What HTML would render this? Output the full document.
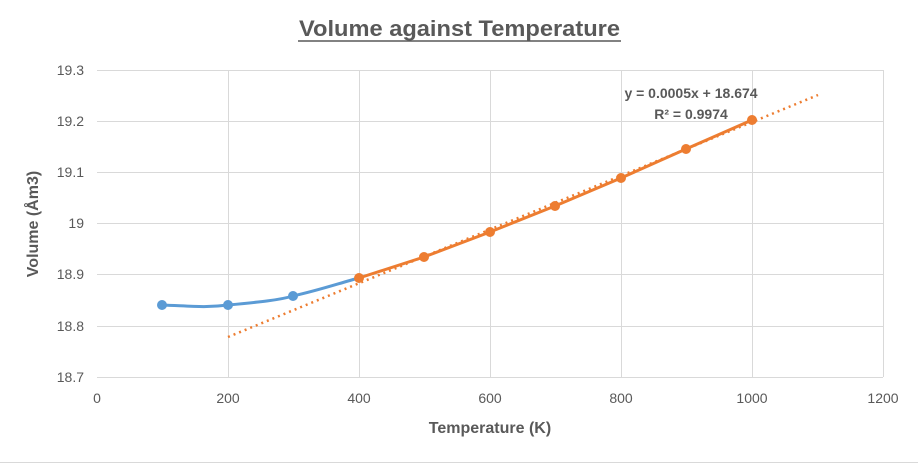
<!DOCTYPE html>
<html><head><style>body{margin:0;background:#fff}svg{display:block}</style></head><body>
<svg width="918" height="464" xmlns="http://www.w3.org/2000/svg" font-family="Liberation Sans, sans-serif">
<rect width="918" height="464" fill="#fff"/>
<g stroke="#d9d9d9" stroke-width="1">
<line x1="97" y1="70.5" x2="883" y2="70.5"/><line x1="97" y1="121.5" x2="883" y2="121.5"/>
<line x1="97" y1="172.5" x2="883" y2="172.5"/><line x1="97" y1="223.5" x2="883" y2="223.5"/>
<line x1="97" y1="274.5" x2="883" y2="274.5"/><line x1="97" y1="326.5" x2="883" y2="326.5"/>
<line x1="228.5" y1="70" x2="228.5" y2="377"/><line x1="359.5" y1="70" x2="359.5" y2="377"/>
<line x1="490.5" y1="70" x2="490.5" y2="377"/><line x1="621.5" y1="70" x2="621.5" y2="377"/>
<line x1="752.5" y1="70" x2="752.5" y2="377"/><line x1="883.5" y1="70" x2="883.5" y2="377"/>
<line x1="97" y1="377.5" x2="883" y2="377.5"/>
<line x1="0" y1="462.5" x2="918" y2="462.5"/>
</g>
<g fill="#595959" font-size="14" text-anchor="end">
<text x="84" y="75">19.3</text><text x="84" y="126">19.2</text><text x="84" y="177">19.1</text>
<text x="84" y="228">19</text><text x="84" y="279">18.9</text><text x="84" y="331">18.8</text><text x="84" y="382">18.7</text>
</g>
<g fill="#595959" font-size="14" text-anchor="middle">
<text x="97" y="403">0</text><text x="228" y="403">200</text><text x="359" y="403">400</text><text x="490" y="403">600</text>
<text x="621" y="403">800</text><text x="752" y="403">1000</text><text x="883" y="403">1200</text>
</g>
<text x="299" y="36" font-size="22" font-weight="bold" fill="#595959" textLength="321" lengthAdjust="spacingAndGlyphs">Volume against Temperature</text>
<line x1="298" y1="41" x2="621" y2="41" stroke="#595959" stroke-width="1.5"/>
<text x="490" y="433" font-size="16" font-weight="bold" fill="#595959" text-anchor="middle">Temperature (K)</text>
<text transform="translate(38,224) rotate(-90)" font-size="16" font-weight="bold" fill="#595959" text-anchor="middle">Volume (Åm3)</text>
<text x="691" y="98" font-size="14" font-weight="bold" fill="#595959" text-anchor="middle">y = 0.0005x + 18.674</text>
<text x="691" y="119" font-size="14" font-weight="bold" fill="#595959" text-anchor="middle">R² = 0.9974</text>
<path d="M162,305 C190,306 205,308 228,305 C260,302 280,300 293,296 C320,290 340,283 359,278" fill="none" stroke="#5b9bd5" stroke-width="3"/>
<g fill="#5b9bd5"><circle cx="162" cy="305" r="5"/><circle cx="228" cy="305" r="5"/><circle cx="293" cy="296" r="5"/></g>
<line x1="228" y1="337" x2="818" y2="95" stroke="#ed7d31" stroke-width="2.5" stroke-dasharray="2,4"/>
<polyline points="359,278 424,257 490,232 555,206 621,178 686,149 752,120" fill="none" stroke="#ed7d31" stroke-width="3"/>
<g fill="#ed7d31"><circle cx="359" cy="278" r="5"/><circle cx="424" cy="257" r="5"/><circle cx="490" cy="232" r="5"/><circle cx="555" cy="206" r="5"/><circle cx="621" cy="178" r="5"/><circle cx="686" cy="149" r="5"/><circle cx="752" cy="120" r="5"/></g>
</svg>
</body></html>
